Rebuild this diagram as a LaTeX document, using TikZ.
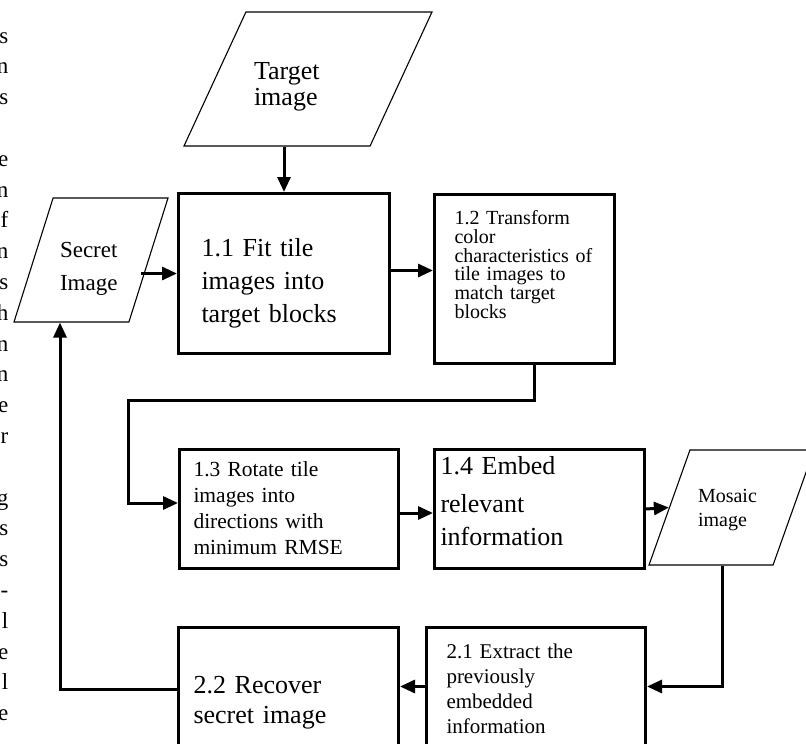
\documentclass[tikz,border=0pt]{standalone}
\usepackage{fontspec}
\setmainfont{Liberation Serif}
\usetikzlibrary{shapes.geometric,arrows.meta}

\begin{document}
\begin{tikzpicture}[x=1pt,y=-1pt,
  stage/.style={draw,line width=3pt,align=left,inner ysep=0pt,anchor=north west},
  io/.style={draw,line width=1.1pt,trapezium,trapezium stretches body,inner sep=0pt,align=left},
  arr/.style={line width=3pt,-{Triangle[length=15pt,width=13pt]}},
  big/.style={font=\fontsize{26}{33}\selectfont},
  small/.style={font=\fontsize{21}{25}\selectfont}]
\useasboundingbox (0,0) rectangle (806,744);

% cut-off column of text on the left
\foreach \ch/\k in {s/0,n/1,s/2,e/4,n/5,f/6,n/7,s/8,h/9,n/10,n/11,e/12,r/13,
                    g/15,s/16,s/17,-/18,l/19,e/20,l/21,e/22}
  \node[anchor=base east,inner sep=0pt,font=\fontsize{23}{23}\selectfont] (edge\k) at (8.5,{43+30.8*\k}) {\ch};

% inputs and outputs
\node[io,trapezium left angle=65.2,trapezium right angle=114.8,minimum width=248pt,
  text width=108pt,text height=67pt,text depth=67pt,font=\fontsize{26}{26.5}\selectfont]
  (target) at (308,79) {Target\\image};
\node[io,trapezium left angle=72.5,trapezium right angle=107.5,minimum width=154pt,
  text width=62pt,text height=59pt,text depth=65pt,font=\fontsize{23}{33}\selectfont]
  (secret) at (91,260) {Secret\\Image};
\node[io,trapezium left angle=70.4,trapezium right angle=109.6,minimum width=165pt,
  text width=67pt,text height=52pt,text depth=63pt,font=\fontsize{20}{24}\selectfont]
  (mosaic) at (731.5,507.5) {Mosaic\\image};

% stages
\node[stage,big,inner xsep=23pt,text width=165pt,text height=63pt,text depth=97pt]
  (box11) at (177,192) {1.1 Fit tile\\images into\\target blocks};
\node[stage,font=\fontsize{20}{18.8}\selectfont,inner xsep=20pt,text width=140pt,text height=30pt,text depth=139pt]
  (box12) at (433,193) {1.2 Transform\\color\\characteristics of\\tile images to\\match target\\blocks};
\node[stage,font=\fontsize{21.5}{26}\selectfont,inner xsep=14pt,text width=191pt,text height=27pt,text depth=92pt]
  (box13) at (178,448) {1.3 Rotate tile\\images into\\directions with\\minimum RMSE};
\node[stage,font=\fontsize{26}{33}\selectfont,inner xsep=6pt,text width=198pt,text height=25pt,text depth=94pt]
  (box14) at (433,448) {1.4 Embed\\[5pt]relevant\\information};
\node[stage,small,inner xsep=20pt,text width=179pt,text height=31pt,text depth=109pt]
  (box21) at (425,626) {2.1 Extract the\\previously\\embedded\\information};
\node[stage,font=\fontsize{26}{30}\selectfont,inner xsep=15pt,text width=190pt,text height=66pt,text depth=84pt]
  (box22) at (177,626) {2.2 Recover\\secret image};

% connectors
\draw[arr] (target.south -| box11.north) -- (box11.north);
\draw[arr] ([xshift=50pt]secret.center |- box11.west) -- (box11.west);
\draw[arr] ([yshift=3pt]box11.east) -- ([yshift=3pt]box11.east -| box12.west);
\draw[arr] ([xshift=10pt]box12.south) -- ++(0,35) -| ([xshift=-50pt,yshift=6pt]box13.west)
  -- ([yshift=6pt]box13.west);
\draw[arr] ([yshift=-4pt]box13.east) -- ([yshift=-4pt]box13.east -| box14.west);
\draw[arr] (box14.east) -- (mosaic.west);
\draw[arr] ([xshift=-9.5pt]mosaic.south) |- ([yshift=11pt]box21.east);
\draw[arr] ([yshift=11pt]box21.west) -- ([yshift=11pt]box21.west -| box22.east);
\draw[arr] ([yshift=13pt]box22.west) -| ([xshift=-31pt]secret.south);

\end{tikzpicture}
\end{document}
